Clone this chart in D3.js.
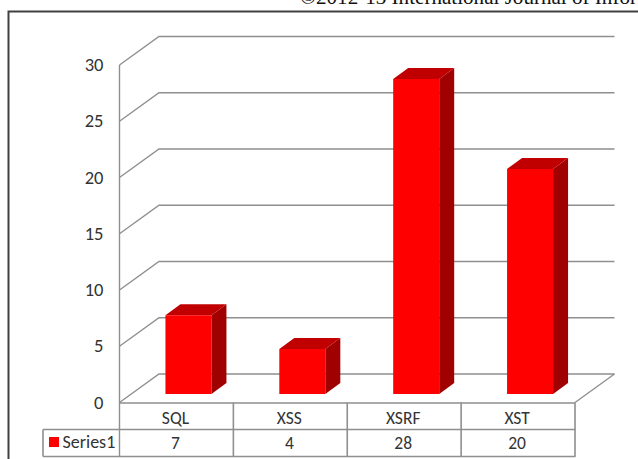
<!DOCTYPE html>
<html>
<head>
<meta charset="utf-8">
<script src="https://cdn.jsdelivr.net/npm/d3@7"></script>
<style>
html,body{margin:0;padding:0;background:#fff;overflow:hidden}
svg{display:block}
text{font-family:Carlito,"Liberation Sans","Open Sans",sans-serif;fill:#333}
</style>
</head>
<body>
<svg id="chart" width="638" height="459"></svg>
<script>
const categories = ["SQL", "XSS", "XSRF", "XST"];
const seriesName = "Series1";
const seriesValues = [7, 4, 28, 20];
const yTicks = [0, 5, 10, 15, 20, 25, 30];
const headerLine = "©2012-13 International Journal of Infor";

const svg = d3.select("#chart");
const grid = "#8f8f8f";

// Plot geometry: front wall edge, wall depth, and the table under the floor
const left = 119.5, right = 575, yBase = 402.5, yTop = 65;
const depthX = 39.5, depthY = -28.5;
const barDepthX = 15, barDepthY = -11;
const barWidth = 46, barShiftX = 12, barFloorY = 394;
const headerBottom = 429.5, rowBottom = 456.5, legendLeft = 43;

const y = d3.scaleLinear().domain([0, 30]).range([yBase, yTop]);
const x = d3.scaleBand().domain(categories).range([left, right]);

// Page furniture: running header and the dark frame round the figure
svg.append("text").attr("x", 300).attr("y", 3.5)
  .attr("textLength", 337).attr("lengthAdjust", "spacingAndGlyphs")
  .style("font-family", "'Liberation Serif',serif").style("fill", "#111")
  .style("font-size", "20.2px").text(headerLine);
svg.append("path").attr("d", "M8.5,459V11.5H638")
  .attr("fill", "none").attr("stroke", "#404040").attr("stroke-width", 2);

// Gridlines run along the side wall, then across the back wall
svg.append("g").selectAll("path").data(yTicks).join("path")
  .attr("fill", "none").attr("stroke", grid).attr("stroke-width", 1.4)
  .attr("d", d => `M${left},${y(d)}L${left + depthX},${y(d) + depthY}H${right + depthX}`);

// Floor front-right edge
svg.append("path").attr("fill", "none").attr("stroke", grid).attr("stroke-width", 1.4)
  .attr("d", `M${right},${yBase}L${right + depthX},${yBase + depthY}`);

// Value axis line and labels
svg.append("line").attr("x1", left).attr("x2", left).attr("y1", yTop).attr("y2", rowBottom)
  .attr("stroke", grid).attr("stroke-width", 1.4);
svg.append("g").selectAll("text").data(yTicks).join("text")
  .attr("x", 103.5).attr("y", d => y(d)).attr("dy", "0.33em").attr("text-anchor", "end")
  .style("font-size", "18.5px").text(d => d);

// Columns: front face, top and side faces
const bars = svg.append("g").selectAll("g").data(categories).join("g")
  .attr("transform", c => `translate(${x(c) + x.bandwidth() / 2 + barShiftX - barWidth / 2},0)`);
const h = i => y(0) - y(seriesValues[i]);
bars.append("path").attr("fill", "#a00000")
  .attr("d", (c, i) => `M${barWidth},${barFloorY - h(i)}l${barDepthX},${barDepthY}V${barFloorY + barDepthY}l${-barDepthX},${-barDepthY}Z`);
bars.append("path").attr("fill", "#c00000")
  .attr("d", (c, i) => `M0,${barFloorY - h(i)}l${barDepthX},${barDepthY}h${barWidth}l${-barDepthX},${-barDepthY}Z`);
bars.append("rect").attr("fill", "#ff0000").attr("width", barWidth)
  .attr("y", (c, i) => barFloorY - h(i)).attr("height", (c, i) => h(i));

// Data table below the plot
const table = svg.append("g").attr("stroke", grid).attr("stroke-width", 1.6).attr("fill", "none");
table.append("path").attr("d", `M${left},${yBase + 0.5}H${right}M${legendLeft},${headerBottom}H${right + 0.5}M${legendLeft},${rowBottom}H${right + 0.5}M${legendLeft},${headerBottom}V${rowBottom}`);
table.selectAll("line").data(categories).join("line")
  .attr("x1", c => x(c) + x.bandwidth()).attr("x2", c => x(c) + x.bandwidth())
  .attr("y1", yBase).attr("y2", rowBottom);

const labels = svg.append("g").attr("text-anchor", "middle").style("font-size", "17.5px");
labels.selectAll(".cat").data(categories).join("text").attr("class", "cat")
  .attr("x", c => x(c) + x.bandwidth() / 2 - 1).attr("y", 424).text(c => c);
labels.selectAll(".val").data(seriesValues).join("text").attr("class", "val")
  .attr("x", (v, i) => x(categories[i]) + x.bandwidth() / 2 - 1).attr("y", 448.5).text(v => v);

// Legend key inside the table row
svg.append("rect").attr("x", 49).attr("y", 437).attr("width", 10).attr("height", 10).attr("fill", "#ff0000");
svg.append("text").attr("x", 62.5).attr("y", 447.5).style("font-size", "18px").text(seriesName);
</script>
</body>
</html>
